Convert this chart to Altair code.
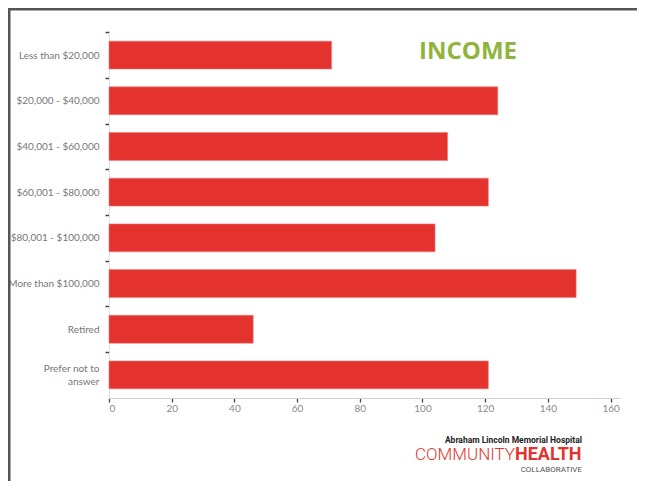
import altair as alt
import pandas as pd

categories = [
    "Less than $20,000",
    "$20,000 - $40,000",
    "$40,001 - $60,000",
    "$60,001 - $80,000",
    "$80,001 - $100,000",
    "More than $100,000",
    "Retired",
    "Prefer not to\nanswer",
]
counts = [71, 124, 108, 121, 104, 149, 46, 121]
x_ticks = [0, 20, 40, 60, 80, 100, 120, 140, 160]

df = pd.DataFrame({"category": categories, "count": counts})

W, H = 511, 366
PAD = {"left": 101, "top": 24, "right": 17, "bottom": 83}
STEP = H / (len(categories) - 0.39 + 0.4)

bars = alt.Chart(df).mark_bar(color="#E4332F", stroke="#F07A76", strokeWidth=0.6).encode(
    x=alt.X(
        "count:Q",
        scale=alt.Scale(domain=[0, 163], nice=False),
        axis=alt.Axis(
            values=x_ticks,
            title=None,
            grid=False,
            domainColor="#d0d0d0",
            domainWidth=1,
            tickColor="#444",
            tickSize=4,
            tickWidth=1.3,
            labelColor="#8a8a8a",
            labelFont="Lato",
            labelFontSize=10,
            labelPadding=1,
        ),
    ),
    y=alt.Y(
        "category:N",
        sort=categories,
        scale=alt.Scale(paddingInner=0.39, paddingOuter=0.2),
        axis=alt.Axis(
            title=None,
            grid=False,
            domainColor="#e2e2e2",
            domainWidth=1,
            tickColor="#444",
            tickSize=4,
            tickWidth=1.5,
            tickOffset=-STEP / 2,
            labelColor="#777",
            labelFont="Lato",
            labelFontSize=10,
            labelPadding=6,
            labelLimit=200,
            labelExpr="split(datum.label, '\\n')",
            labelLineHeight=13,
            labelOffset={
                "condition": {"test": "indexof(datum.value, 'Prefer') >= 0", "value": STEP / 2 - 6},
                "value": STEP / 2,
            },
        ),
    ),
)

title = alt.Chart(pd.DataFrame({"t": ["INCOME"]})).mark_text(
    font="Open Sans", fontSize=24, fontWeight="bold", color="#93B43C", align="center", baseline="middle"
).encode(x=alt.value(359), y=alt.value(20), text="t:N")

logo_top = alt.Chart(pd.DataFrame({"t": ["Abraham Lincoln Memorial Hospital"]})).mark_text(
    font="Roboto", fontSize=8.5, fontWeight="bold", color="#222", align="right", baseline="middle"
).encode(x=alt.value(473), y=alt.value(408), text="t:N")

logo_comm = alt.Chart(pd.DataFrame({"t": ["COMMUNITY"]})).mark_text(
    font="Roboto", fontSize=17, fontWeight=300, color="#E4332F", align="right", baseline="middle"
).encode(x=alt.value(406), y=alt.value(423), text="t:N")

logo_health = alt.Chart(pd.DataFrame({"t": ["HEALTH"]})).mark_text(
    font="Roboto", fontSize=18, fontWeight="bold", color="#E4332F", align="left", baseline="middle"
).encode(x=alt.value(406), y=alt.value(423), text="t:N")

logo_collab = alt.Chart(pd.DataFrame({"t": ["COLLABORATIVE"]})).mark_text(
    font="Roboto", fontSize=8, color="#555", align="right", baseline="middle"
).encode(x=alt.value(473), y=alt.value(438), text="t:N")

frame_top = alt.Chart(pd.DataFrame({"a": [0]})).mark_rule(color="#555", strokeWidth=3).encode(
    x=alt.value(-101), x2=alt.value(W + 17), y=alt.value(-23)
)
frame_left = alt.Chart(pd.DataFrame({"a": [0]})).mark_rule(color="#555", strokeWidth=3).encode(
    x=alt.value(-100), y=alt.value(-24), y2=alt.value(H + 83)
)

chart = alt.layer(
    frame_top, frame_left, bars, title, logo_top, logo_comm, logo_health, logo_collab
).properties(
    width=W,
    height=H,
    padding=PAD,
    autosize=alt.AutoSizeParams(type="none"),
    background="white",
).configure_view(stroke=None)

chart.save("out.html", embed_options={"renderer": "svg", "actions": False})
